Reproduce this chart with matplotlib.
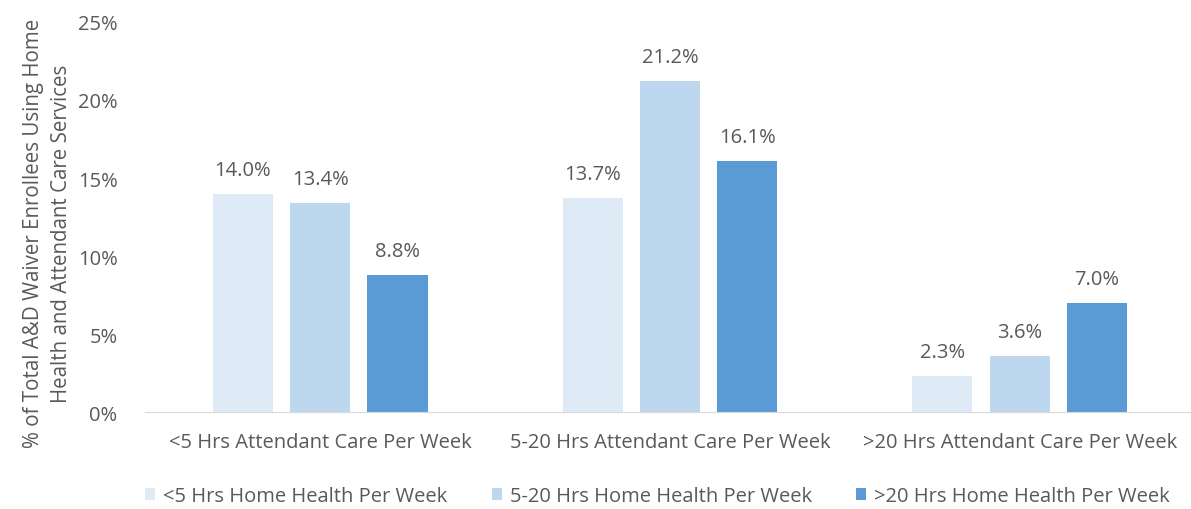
import matplotlib
matplotlib.use("Agg")
import matplotlib.pyplot as plt
import numpy as np

plt.rcParams['font.family'] = ['Open Sans', 'DejaVu Sans']

# data
groups = ['<5 Hrs Attendant Care Per Week', '5-20 Hrs Attendant Care Per Week',
          '>20 Hrs Attendant Care Per Week']
series = ['<5 Hrs Home Health Per Week', '5-20 Hrs Home Health Per Week',
          '>20 Hrs Home Health Per Week']
low_hh = [14.0, 13.7, 2.3]
mid_hh = [13.4, 21.2, 3.6]
high_hh = [8.8, 16.1, 7.0]
colors = ['#DEEBF7', '#BDD7EE', '#5B9BD5']

txt = '#595959'
fs = 14.5

fig = plt.figure(figsize=(11.91, 5.10), dpi=100)
ax = fig.add_axes([0.122, 0.19, 0.881, 0.765])

x = np.arange(len(groups))
width = 0.172
step = 0.221

for i, (vals, name) in enumerate(zip([low_hh, mid_hh, high_hh], series)):
    pos = x + (i - 1) * step
    bars = ax.bar(pos, vals, width, color=colors[i], label=name)
    for b, v in zip(bars, vals):
        ax.text(b.get_x() + b.get_width() / 2, v + 0.9, f'{v:.1f}%',
                ha='center', va='bottom', fontsize=fs, color=txt)

ax.set_xlim(-0.5, 2.5)
ax.set_ylim(0, 25)
ax.set_yticks([0, 5, 10, 15, 20, 25])
ax.set_yticklabels([f'{t}%' for t in [0, 5, 10, 15, 20, 25]])
ax.set_xticks(x)
ax.set_xticklabels(groups)
ax.tick_params(axis='both', length=0, labelsize=fs, labelcolor=txt)
ax.tick_params(axis='y', pad=20)
ax.tick_params(axis='x', pad=14)

for s in ['top', 'right', 'left']:
    ax.spines[s].set_visible(False)
ax.spines['bottom'].set_color('#D9D9D9')

ax.set_ylabel('% of Total A&D Waiver Enrollees Using Home\nHealth and Attendant Care Services',
              fontsize=14.8, color=txt, linespacing=1.45)
ax.yaxis.set_label_coords(-0.07, 0.46)

fig.legend(loc='center', bbox_to_anchor=(0.552, 0.025), ncol=3, frameon=False,
           fontsize=fs, labelcolor=txt, handlelength=0.5, handleheight=0.5,
           handletextpad=0.4, columnspacing=2.2)

fig.savefig('out.png', dpi=100)
